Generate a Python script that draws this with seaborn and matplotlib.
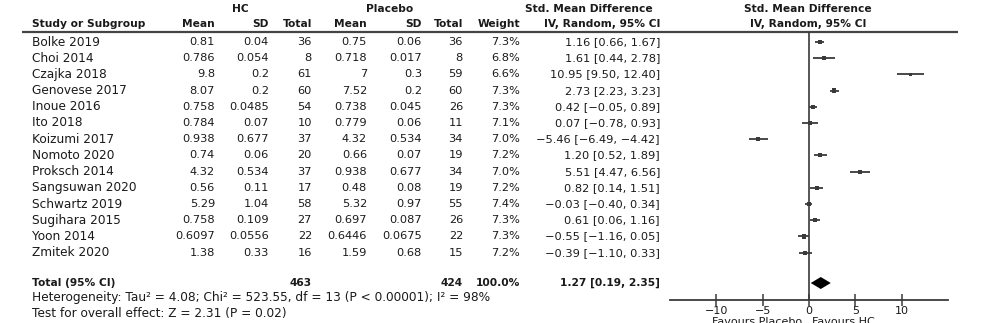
import numpy as np
import pandas as pd
import matplotlib
matplotlib.use("Agg")
import matplotlib.pyplot as plt
import seaborn as sns

studies = ["Bolke 2019", "Choi 2014", "Czajka 2018", "Genovese 2017", "Inoue 2016",
           "Ito 2018", "Koizumi 2017", "Nomoto 2020", "Proksch 2014", "Sangsuwan 2020",
           "Schwartz 2019", "Sugihara 2015", "Yoon 2014", "Zmitek 2020"]
hc_mean = ["0.81", "0.786", "9.8", "8.07", "0.758", "0.784", "0.938", "0.74", "4.32",
           "0.56", "5.29", "0.758", "0.6097", "1.38"]
hc_sd = ["0.04", "0.054", "0.2", "0.2", "0.0485", "0.07", "0.677", "0.06", "0.534",
         "0.11", "1.04", "0.109", "0.0556", "0.33"]
hc_n = [36, 8, 61, 60, 54, 10, 37, 20, 37, 17, 58, 27, 22, 16]
pl_mean = ["0.75", "0.718", "7", "7.52", "0.738", "0.779", "4.32", "0.66", "0.938",
           "0.48", "5.32", "0.697", "0.6446", "1.59"]
pl_sd = ["0.06", "0.017", "0.3", "0.2", "0.045", "0.06", "0.534", "0.07", "0.677",
         "0.08", "0.97", "0.087", "0.0675", "0.68"]
pl_n = [36, 8, 59, 60, 26, 11, 34, 19, 34, 19, 55, 26, 22, 15]
weight = [7.3, 6.8, 6.6, 7.3, 7.3, 7.1, 7.0, 7.2, 7.0, 7.2, 7.4, 7.3, 7.3, 7.2]
smd = [1.16, 1.61, 10.95, 2.73, 0.42, 0.07, -5.46, 1.20, 5.51, 0.82, -0.03, 0.61, -0.55, -0.39]
ci_lo = [0.66, 0.44, 9.50, 2.23, -0.05, -0.78, -6.49, 0.52, 4.47, 0.14, -0.40, 0.06, -1.16, -1.10]
ci_hi = [1.67, 2.78, 12.40, 3.23, 0.89, 0.93, -4.42, 1.89, 6.56, 1.51, 0.34, 1.16, 0.05, 0.33]
total_hc, total_pl = 463, 424
pooled, pooled_lo, pooled_hi = 1.27, 0.19, 2.35
x_ticks = [-10, -5, 0, 5, 10]

sns.set_theme(style="white")
plt.rcParams["font.family"] = ["DejaVu Sans"]

W, H = 982, 323
fig = plt.figure(figsize=(W / 100, H / 100), dpi=100)
fig.patch.set_facecolor("white")

# text layer in pixel coordinates
tx = fig.add_axes([0, 0, 1, 1])
tx.set_xlim(0, W)
tx.set_ylim(H, 0)
tx.axis("off")

TXT = "#1a1a1a"
FS = 8.7      # study names and footnotes
FN = 8.2      # numeric cells
FB = 7.7      # bold headers / totals
FT = 8.0      # axis labels
row_y0, row_dy = 42, 16.2
total_y = 283
header_line_y = 32

def fmt(v):
    return f"{v:.2f}".replace("-", "\u2212")

cols = {"hc_mean": 215, "hc_sd": 269, "hc_n": 312, "pl_mean": 367, "pl_sd": 422,
        "pl_n": 463, "w": 520, "ci": 660}

# group headers
tx.text(240, 9, "HC", ha="center", va="center", fontsize=FB, weight="bold", color=TXT)
tx.text(390, 9, "Placebo", ha="center", va="center", fontsize=FB, weight="bold", color=TXT)
tx.text(589, 9, "Std. Mean Difference", ha="center", va="center", fontsize=FB, weight="bold", color=TXT)
tx.text(808, 9, "Std. Mean Difference", ha="center", va="center", fontsize=FB, weight="bold", color=TXT)
tx.text(808, 24, "IV, Random, 95% CI", ha="center", va="center", fontsize=FB, weight="bold", color=TXT)

tx.text(32, 24, "Study or Subgroup", ha="left", va="center", fontsize=FB, weight="bold", color=TXT)
for key, lab in [("hc_mean", "Mean"), ("hc_sd", "SD"), ("hc_n", "Total"), ("pl_mean", "Mean"),
                 ("pl_sd", "SD"), ("pl_n", "Total"), ("w", "Weight"), ("ci", "IV, Random, 95% CI")]:
    tx.text(cols[key], 24, lab, ha="right", va="center", fontsize=FB, weight="bold", color=TXT)

tx.plot([22, 958], [header_line_y, header_line_y], color="#444444", lw=1.6, solid_capstyle="butt")

for i, s in enumerate(studies):
    y = row_y0 + i * row_dy
    tx.text(32, y, s, ha="left", va="center", fontsize=FS, color=TXT)
    vals = [hc_mean[i], hc_sd[i], str(hc_n[i]), pl_mean[i], pl_sd[i], str(pl_n[i]),
            f"{weight[i]:.1f}%", f"{fmt(smd[i])} [{fmt(ci_lo[i])}, {fmt(ci_hi[i])}]"]
    for key, v in zip(cols.keys(), vals):
        tx.text(cols[key], y, v, ha="right", va="center", fontsize=FN, color=TXT)

tx.text(32, total_y, "Total (95% CI)", ha="left", va="center", fontsize=FB, weight="bold", color=TXT)
tx.text(cols["hc_n"], total_y, str(total_hc), ha="right", va="center", fontsize=FB, weight="bold", color=TXT)
tx.text(cols["pl_n"], total_y, str(total_pl), ha="right", va="center", fontsize=FB, weight="bold", color=TXT)
tx.text(cols["w"], total_y, f"{sum(weight):.1f}%", ha="right", va="center", fontsize=FB, weight="bold", color=TXT)
tx.text(cols["ci"], total_y, f"{fmt(pooled)} [{fmt(pooled_lo)}, {fmt(pooled_hi)}]",
        ha="right", va="center", fontsize=FB, weight="bold", color=TXT)
tx.text(32, 298, "Heterogeneity: Tau\u00b2 = 4.08; Chi\u00b2 = 523.55, df = 13 (P < 0.00001); I\u00b2 = 98%",
        ha="left", va="center", fontsize=FS, color=TXT)
tx.text(32, 313, "Test for overall effect: Z = 2.31 (P = 0.02)",
        ha="left", va="center", fontsize=FS, color=TXT)

# forest panel: x in effect units, y in the same pixel rows as the text layer
x0, x1, ytop, ybot = 670, 948, header_line_y, 300
ax = fig.add_axes([x0 / W, (H - ybot) / H, (x1 - x0) / W, (ybot - ytop) / H])
ax.set_facecolor("none")
ax.set_xlim(-15, 15)
ax.set_ylim(ybot, ytop)

df = pd.DataFrame({"study": studies, "smd": smd, "lo": ci_lo, "hi": ci_hi, "w": weight})
df["y"] = row_y0 + np.arange(len(df)) * row_dy

ax.hlines(df["y"], df["lo"], df["hi"], color="#3a3a3a", lw=1.3)
sns.scatterplot(data=df, x="smd", y="y", size="w", sizes=(6, 10), marker="s",
                color="#3a3a3a", edgecolor="none", legend=False, ax=ax)

ax.axvline(0, color="#3a3a3a", lw=1.2)
ax.fill([pooled_lo, pooled, pooled_hi, pooled], [total_y, total_y - 6, total_y, total_y + 6],
        color="black", lw=0)

for sp in ["top", "right", "left"]:
    ax.spines[sp].set_visible(False)
ax.spines["bottom"].set_color("#3a3a3a")
ax.spines["bottom"].set_linewidth(1.3)
ax.set_yticks([])
ax.set_xticks(x_ticks)
ax.set_xticklabels([str(t).replace("-", "\u2212") for t in x_ticks])
ax.tick_params(axis="x", direction="inout", length=8, width=1.1, color="#3a3a3a",
               labelsize=FT, labelcolor=TXT, pad=0, bottom=True)
ax.set_xlabel("")
ax.set_ylabel("")

tx.text(757, 317, "Favours Placebo", ha="center", va="top", fontsize=FT, color=TXT)
tx.text(843, 317, "Favours HC", ha="center", va="top", fontsize=FT, color=TXT)

fig.savefig("out.png", dpi=100, facecolor="white")
